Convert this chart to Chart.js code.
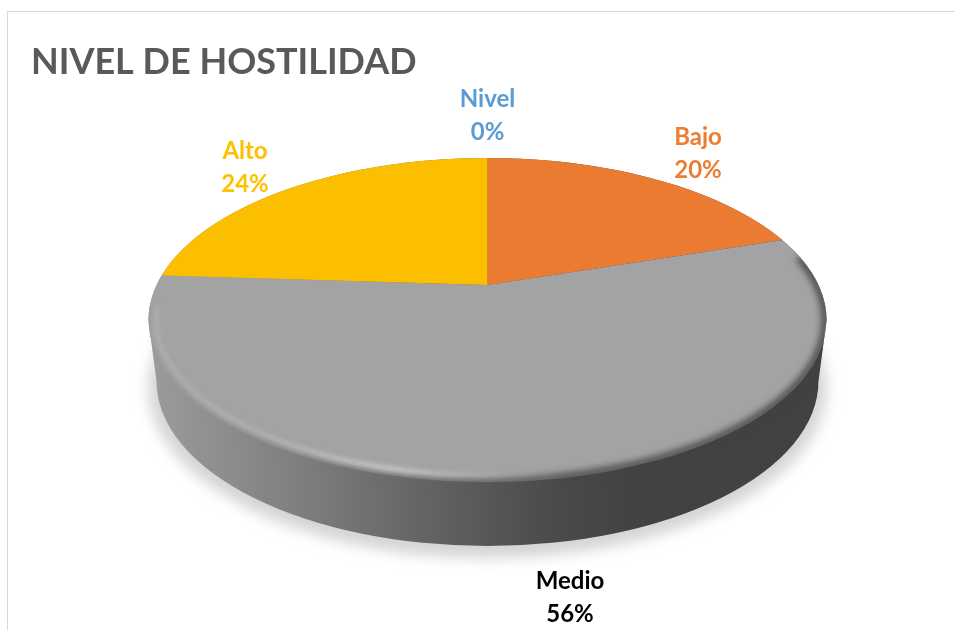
<!DOCTYPE html>
<html lang="es">
<head>
<meta charset="utf-8">
<title>Nivel de hostilidad</title>
<script src="https://cdn.jsdelivr.net/npm/chart.js"></script>
<style>
  html, body { margin: 0; background: #fff; }
  #wrap { position: relative; width: 955px; height: 630px; overflow: hidden; }
  #frame { position: absolute; left: 7px; top: 11px; right: 0; bottom: -4px; border: 1px solid #d9d9d9; border-width: 1.5px 0 0 1.5px; }
  canvas { position: absolute; left: 0; top: 0; }
</style>
</head>
<body>
<div id="wrap">
  <div id="frame"></div>
  <canvas id="pie" width="955" height="630"></canvas>
</div>
<script>
const categories = ['Nivel', 'Bajo', 'Medio', 'Alto'];
const percentages = [0, 20, 56, 24];
const sliceColors = ['#5b9bd5', '#ea7b31', '#a3a3a3', '#fbbf00'];
const labelColors = ['#5b9bd5', '#ed7d31', '#000000', '#ffc000'];
const labelCenters = [[487.5, 99], [698, 137], [570, 581], [245, 151]];
const chartTitle = 'NIVEL DE HOSTILIDAD';

// tilted disc: top face, bottom face, and where the slices meet
const top_ = { x: 487.5, y: 320, rx: 339, ry: 162 };
const bottom = { x: 487.5, y: 381, rx: 331, ry: 165 };
const apex = { x: 487.5, y: 285 };
const tilt = 0.47;

function ellipsePath(ctx, e) {
  ctx.beginPath();
  ctx.ellipse(e.x, e.y, e.rx, e.ry, 0, 0, Math.PI * 2);
}

// outline of the whole disc seen from above
function discPath(ctx) {
  ctx.beginPath();
  ctx.ellipse(top_.x, top_.y, top_.rx, top_.ry, 0, Math.PI, Math.PI * 2);
  ctx.lineTo(bottom.x + bottom.rx, bottom.y);
  ctx.ellipse(bottom.x, bottom.y, bottom.rx, bottom.ry, 0, 0, Math.PI);
  ctx.closePath();
}

function drawShadow(ctx) {
  ctx.save();
  ctx.filter = 'blur(7px)';
  ctx.fillStyle = '#d4d4d4';
  ellipsePath(ctx, { x: bottom.x, y: bottom.y + 7, rx: bottom.rx + 8, ry: bottom.ry + 5 });
  ctx.fill();
  ctx.restore();
}

function drawWall(ctx) {
  const wall = ctx.createLinearGradient(top_.x - top_.rx, 0, top_.x + top_.rx, 0);
  wall.addColorStop(0, '#9c9c9c');
  wall.addColorStop(0.22, '#7f7f7f');
  wall.addColorStop(0.42, '#626262');
  wall.addColorStop(0.6, '#4a4a4a');
  wall.addColorStop(0.72, '#424242');
  wall.addColorStop(1, '#414141');
  ctx.save();
  ctx.fillStyle = wall;
  discPath(ctx);
  ctx.fill();
  ctx.restore();
  return wall;
}

// soft bevel along the front edge of the top face
function drawRim(ctx, wall) {
  ctx.save();
  discPath(ctx);
  ctx.clip();

  // face colour melts into the wall
  ctx.save();
  ctx.filter = 'blur(3.5px)';
  ctx.strokeStyle = wall;
  ctx.lineWidth = 7;
  ctx.beginPath();
  ctx.ellipse(top_.x, top_.y, top_.rx - 1, top_.ry - 1, 0, -0.4, Math.PI + 0.1);
  ctx.stroke();
  ctx.restore();

  // lit edge on the left and front
  const shine = ctx.createLinearGradient(top_.x - top_.rx, 0, top_.x + top_.rx, 0);
  shine.addColorStop(0, 'rgba(255,255,255,0.14)');
  shine.addColorStop(0.2, 'rgba(255,255,255,0.3)');
  shine.addColorStop(0.36, 'rgba(255,255,255,0.6)');
  shine.addColorStop(0.5, 'rgba(255,255,255,0.28)');
  shine.addColorStop(0.62, 'rgba(255,255,255,0)');
  shine.addColorStop(1, 'rgba(255,255,255,0)');
  ctx.filter = 'blur(2.5px)';
  ctx.strokeStyle = shine;
  ctx.lineWidth = 5;
  ctx.beginPath();
  ctx.ellipse(top_.x, top_.y, top_.rx - 7, top_.ry - 6, 0, Math.PI * 0.35, Math.PI + 0.1);
  ctx.stroke();
  ctx.restore();
}

let wallFill = null;

const discPlugin = {
  id: 'disc',
  beforeDatasetsDraw(chart) {
    const ctx = chart.ctx;
    const arc = chart.getDatasetMeta(0).data[0];
    drawShadow(ctx);
    wallFill = drawWall(ctx);
    // slices are flattened around the apex and trimmed by the top face
    ctx.save();
    ellipsePath(ctx, top_);
    ctx.clip();
    ctx.translate(apex.x, apex.y);
    ctx.scale(1, tilt);
    ctx.translate(-arc.x, -arc.y);
  },
  afterDatasetsDraw(chart) {
    chart.ctx.restore();
    drawRim(chart.ctx, wallFill);
  }
};

const labelPlugin = {
  id: 'sliceLabels',
  afterDraw(chart) {
    const ctx = chart.ctx;
    ctx.save();
    ctx.font = 'bold 24px Lato';
    ctx.textAlign = 'center';
    ctx.textBaseline = 'middle';
    categories.forEach((name, i) => {
      const [x, y] = labelCenters[i];
      ctx.fillStyle = labelColors[i];
      ctx.fillText(name, x, y);
      ctx.fillText(percentages[i] + '%', x, y + 33);
    });
    ctx.restore();
  }
};

new Chart(document.getElementById('pie'), {
  type: 'pie',
  data: {
    labels: categories,
    datasets: [{
      data: percentages,
      backgroundColor: sliceColors,
      borderWidth: 0,
      radius: 440,
      clip: false
    }]
  },
  options: {
    responsive: false,
    animation: false,
    layout: { padding: { left: 31, top: 41 } },
    plugins: {
      legend: { display: false },
      tooltip: { enabled: false },
      title: {
        display: true,
        text: chartTitle,
        align: 'start',
        color: '#595959',
        font: { family: 'Lato', size: 36, weight: 'bold' },
        padding: 0
      }
    }
  },
  plugins: [discPlugin, labelPlugin]
});
</script>
</body>
</html>
